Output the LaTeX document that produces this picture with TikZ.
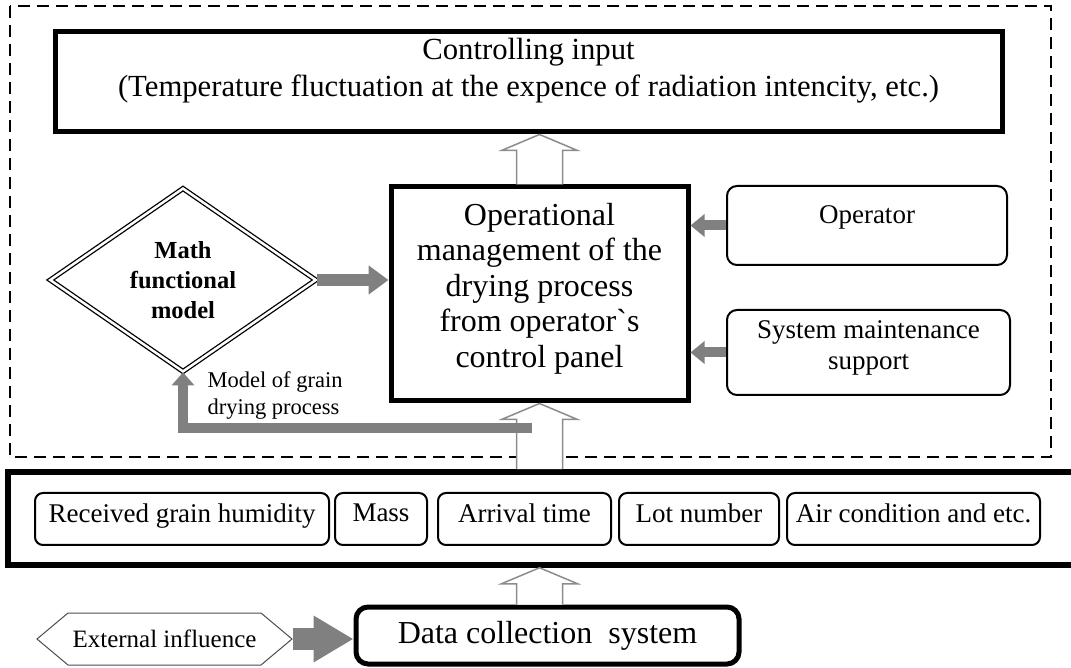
\documentclass[tikz,border=0pt]{standalone}
\usepackage{fontspec}
\setmainfont{Liberation Serif}
\usetikzlibrary{shapes.geometric,shapes.symbols,arrows.meta,calc}

\definecolor{arrowgray}{HTML}{808080}
\tikzset{
  heavybox/.style={draw, line width=5pt, align=center},
  softbox/.style={draw, line width=2pt, rounded corners=10pt, align=center,
    font=\fontsize{27}{31}\selectfont},
  cell/.style={draw, line width=2pt, rounded corners=8pt, minimum height=52pt,
    inner sep=0pt, font=\fontsize{27}{32}\selectfont, text depth=12pt},
  grayarrow/.style={draw=arrowgray, line width=#1},
  hollowarrow/.style={draw=black!45, line width=1.5pt, fill=white},
  frame/.style={line width=2.2pt, dash pattern=on 12pt off 7pt}
}

% hollow block arrow, from the lower node up to the upper node
\newcommand\hollowup[2]{%
  \draw[hollowarrow] let \p1=(opm.center |- #1.north), \p2=(opm.center |- #2.south) in
    (\x1-23,\y1) -- (\x1-23,\y2-16) -- (\x1-38,\y2-16) -- (\x2,\y2)
    -- (\x1+38,\y2-16) -- (\x1+23,\y2-16) -- (\x1+23,\y1);}

\begin{document}
\begin{tikzpicture}[x=1pt,y=1pt]
  \useasboundingbox (0,0) rectangle (1071,667);
  \draw[frame] (10,661) rectangle (1051,210);

  \node[heavybox, minimum width=947pt, minimum height=100pt, text depth=30pt,
        font=\fontsize{30.7}{37}\selectfont] (ctrl) at (528.5,585)
    {Controlling input\\(Temperature fluctuation at the expence of radiation intencity, etc.)};
  \node[heavybox, minimum width=297pt, minimum height=214pt, text depth=18pt,
        font=\fontsize{32}{35.5}\selectfont] (opm) at (539.5,373)
    {Operational\\management of the\\drying process\\from operator\textasciigrave s\\control panel};
  \node[diamond, draw, double, double distance=2.5pt, line width=1.3pt,
        minimum width=266pt, minimum height=181pt, inner sep=0pt, align=center,
        font=\bfseries\fontsize{24.5}{30}\selectfont] (mfm) at (183,387)
    {Math\\functional\\model};
  \node[softbox, minimum width=280pt, minimum height=79pt, text depth=22pt] (oper)
    at (867,441.5) {Operator};
  \node[softbox, minimum width=283pt, minimum height=85pt, text depth=14pt] (sms)
    at (868.5,314.5) {System maintenance\\support};

  % data row
  \node[heavybox, minimum width=1075pt, minimum height=93pt, line width=5.5pt] (row)
    at (545.5,148.5) {};
  \foreach \cx/\w/\txt [count=\i] in {182/294/Received grain humidity, 381/92/Mass,
      524.5/173/Arrival time, 699/160/Lot number, 913.5/253/Air condition and etc.}{
    \node[cell, minimum width=\w pt] (c\i) at (\cx,148) {\txt};
  }

  \node[draw, line width=5pt, rounded corners=12pt, minimum width=383pt,
        minimum height=57pt, font=\fontsize{32}{36}\selectfont] (dcs) at (547.5,31.5)
    {Data collection\ \ system};
  \node[signal, signal to=east and west, signal pointer angle=80, draw=black!70,
        line width=1pt, minimum width=255pt, minimum height=52pt,
        font=\fontsize{25}{30}\selectfont] (ext) at (164.5,28) {External influence};

  % hollow arrows
  \hollowup{opm}{ctrl}
  \hollowup{row}{opm}
  \hollowup{dcs}{row}

  % gray arrows
  \draw[grayarrow=12pt, -{Triangle[width=28pt,length=20pt]}] (mfm.east) -- (opm.west |- mfm.east);
  \draw[grayarrow=10pt, -{Triangle[width=22pt,length=14pt]}] (oper.west) -- (opm.east |- oper.west);
  \draw[grayarrow=10pt, -{Triangle[width=22pt,length=14pt]}] (sms.west) -- (opm.east |- sms.west);
  \draw[grayarrow=22pt, -{Triangle[width=44pt,length=40pt]}] (ext.east) -- (dcs.west |- ext.east);
  \coordinate (split) at (532,239);
  \draw[grayarrow=10pt, -{Triangle[width=22pt,length=13pt]}] (split) -| (mfm.south);
  \node[anchor=west, align=left, font=\fontsize{22.5}{27}\selectfont] (mlabel) at (204,271)
    {Model of grain\\drying process};
\end{tikzpicture}
\end{document}
